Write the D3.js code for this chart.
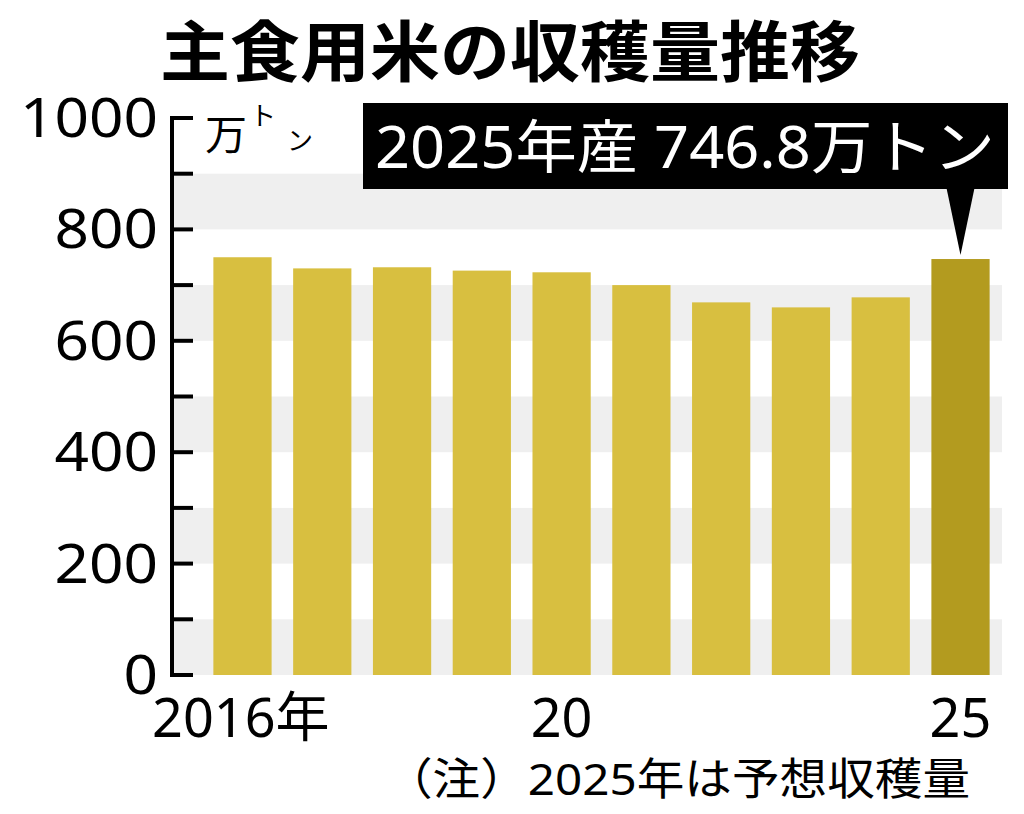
<!DOCTYPE html>
<html><head><meta charset="utf-8">
<script src="https://cdn.jsdelivr.net/npm/d3@7"></script>
<style>body{margin:0;background:#fff}text{font-family:"Noto Sans","Noto Sans CJK JP",sans-serif}</style>
</head><body><svg width="1024" height="814"></svg>
<script>
const years = [2016,2017,2018,2019,2020,2021,2022,2023,2024,2025];
const values = [750,730,732,726,723,700,669,660,678,746.8];
const yTicks = [0,200,400,600,800,1000];
const xLabels = {2016:"2016年",2020:"20",2025:"25"};

const svg = d3.select("svg");
const x = d3.scaleBand().domain(years).range([203,1000]).paddingInner(0.27).paddingOuter(0.13);
const y = d3.scaleLinear().domain([0,1000]).range([675,118]);

// bands
svg.selectAll(".band").data(d3.range(0,1000,200)).enter().append("rect")
  .attr("x",172).attr("width",830).attr("y",d=>y(d+100)).attr("height",d=>y(d)-y(d+100))
  .attr("fill","#efefef");

svg.selectAll(".bar").data(years).enter().append("rect")
  .attr("x",d=>x(d)).attr("width",x.bandwidth())
  .attr("y",(d,i)=>y(values[i])).attr("height",(d,i)=>y(0)-y(values[i]))
  .attr("fill",d=>d===2025?"#b39b1f":"#d8bf40");

// axis
svg.append("line").attr("x1",172).attr("x2",172).attr("y1",y(1000)-2).attr("y2",y(0)+2).attr("stroke","#000").attr("stroke-width",4);
svg.selectAll(".tk").data(d3.range(0,1001,100)).enter().append("line")
  .attr("x1",172).attr("x2",193).attr("y1",d=>y(d)).attr("y2",d=>y(d)).attr("stroke","#000").attr("stroke-width",4);
svg.selectAll(".yl").data(yTicks).enter().append("text")
  .attr("x",158).attr("y",d=>y(d)+19).attr("text-anchor","end").attr("font-size",54)
  .attr("textLength",d=>String(d).length*34.5).attr("lengthAdjust","spacingAndGlyphs").text(d=>d);

svg.append("text").attr("x",205).attr("y",150).attr("font-size",42).text("万");
svg.append("text").attr("x",250).attr("y",125).attr("font-size",26).text("ト");
svg.append("text").attr("x",287).attr("y",150).attr("font-size",26).text("ン");

// x labels
svg.selectAll(".xl").data(years.filter(d=>xLabels[d])).enter().append("text")
  .attr("x",d=>d===2016?152:x(d)+x.bandwidth()/2).attr("y",737)
  .attr("text-anchor",d=>d===2016?"start":"middle").attr("font-size",54).text(d=>xLabels[d]);

svg.append("text").attr("x",970).attr("y",795).attr("text-anchor","end").attr("font-size",44)
  .attr("textLength",585).attr("lengthAdjust","spacingAndGlyphs").text("（注）2025年は予想収穫量");

// title
svg.append("text").attr("x",510).attr("y",76).attr("text-anchor","middle").attr("font-size",66).attr("font-weight","bold")
  .attr("textLength",700).attr("lengthAdjust","spacingAndGlyphs").text("主食用米の収穫量推移");

// callout
const cx = x(2025)+x.bandwidth()/2;
svg.append("rect").attr("x",363).attr("y",103).attr("width",645).attr("height",86).attr("fill","#000");
svg.append("path").attr("d",`M${cx-14},188 L${cx+14},188 L${cx},${y(values[9])-4}Z`).attr("fill","#000");
svg.append("text").attr("x",685).attr("y",168).attr("text-anchor","middle").attr("font-size",58).attr("fill","#fff")
  .attr("textLength",620).attr("lengthAdjust","spacingAndGlyphs").text("2025年産 746.8万トン");
</script></body></html>
